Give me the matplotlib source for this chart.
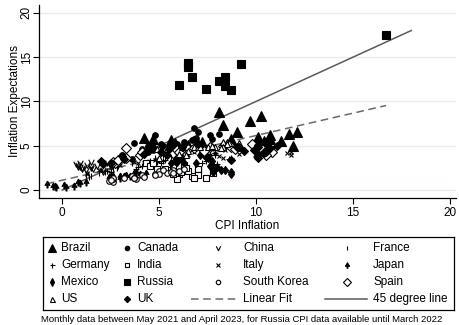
import numpy as np
import matplotlib
matplotlib.use("Agg")
import matplotlib.pyplot as plt
from matplotlib.path import Path

plt.rcParams["font.family"] = ["Liberation Sans", "DejaVu Sans"]

# monthly CPI inflation (x) and inflation expectations (y), May 2021 - April 2023
brazil_cpi = [8.1, 8.3, 9.0, 9.7, 10.25, 10.7, 10.7, 10.1, 10.4, 10.5, 11.3, 12.1,
              11.7, 11.9, 10.1, 8.7, 7.2, 6.5, 5.9, 5.8, 5.8, 5.6, 4.7, 4.2]
brazil_exp = [8.8, 7.3, 6.6, 7.8, 8.3, 6.2, 5.7, 6.0, 5.5, 5.1, 5.5, 6.5,
              6.3, 5.0, 5.3, 5.8, 5.4, 5.1, 4.9, 5.0, 5.3, 5.6, 5.8, 5.9]
canada_cpi = [3.6, 3.1, 3.7, 4.1, 4.4, 4.7, 4.7, 4.8, 5.1, 5.7, 6.7, 6.8,
              7.7, 8.1, 7.6, 7.0, 6.9, 6.9, 6.8, 6.3, 5.9, 5.2, 4.3, 4.4]
canada_exp = [3.5, 4.0, 5.3, 4.6, 5.0, 4.5, 4.8, 6.2, 5.2, 5.4, 5.6, 7.0,
              5.8, 6.3, 6.2, 6.6, 5.9, 5.5, 5.7, 5.4, 5.2, 5.0, 4.5, 4.3]
china_cpi = [1.3, 1.1, 1.0, 0.8, 0.7, 1.5, 2.3, 1.5, 0.9, 0.9, 1.5, 2.1,
             2.1, 2.5, 2.7, 2.5, 2.8, 2.1, 1.6, 1.8, 2.1, 1.0, 0.8, 1.2]
china_exp = [2.8, 2.6, 2.5, 2.8, 2.9, 3.2, 3.0, 2.7, 3.0, 2.6, 2.5, 2.3,
             2.0, 1.9, 2.8, 2.6, 3.0, 3.0, 2.4, 2.7, 2.9, 2.4, 2.6, 2.3]
france_cpi = [1.4, 1.5, 1.2, 1.9, 2.2, 2.6, 2.8, 2.8, 2.9, 3.6, 4.5, 4.8,
              5.2, 5.8, 6.1, 5.9, 5.6, 6.2, 6.2, 5.9, 6.0, 6.3, 5.7, 5.9]
france_exp = [1.5, 1.6, 1.7, 1.9, 2.0, 2.2, 2.5, 2.6, 2.7, 3.0, 3.3, 3.6,
              3.9, 4.0, 4.2, 4.0, 3.8, 3.7, 3.9, 3.6, 3.5, 3.5, 3.3, 3.2]
germany_cpi = [2.5, 2.3, 3.8, 3.9, 4.1, 4.5, 5.2, 5.3, 4.9, 5.1, 7.3, 7.4,
               7.9, 7.6, 7.9, 10.0, 10.4, 10.0, 8.6, 8.7, 8.7, 7.4, 7.2, 8.0]
germany_exp = [2.0, 2.1, 2.4, 2.6, 2.7, 3.0, 3.3, 3.4, 3.2, 3.1, 4.0, 4.1,
               4.0, 3.9, 4.2, 3.7, 4.0, 3.8, 3.5, 2.0, 3.6, 3.3, 3.0, 2.9]
india_cpi = [6.3, 6.3, 5.6, 5.3, 4.3, 4.5, 4.9, 5.7, 6.0, 6.1, 7.0, 7.8,
             7.0, 7.0, 6.7, 7.0, 7.4, 6.8, 5.9, 5.7, 6.5, 6.4, 5.7, 4.7]
india_exp = [2.8, 2.6, 2.3, 2.4, 3.0, 2.7, 2.4, 2.1, 1.8, 2.0, 2.3, 1.9,
             2.1, 2.4, 1.6, 1.7, 1.4, 1.3, 1.2, 1.8, 2.1, 2.5, 2.7, 3.0]
italy_cpi = [1.3, 1.3, 1.9, 2.0, 2.5, 3.0, 3.7, 3.9, 4.8, 5.7, 6.5, 6.0,
             6.8, 7.9, 8.4, 8.9, 11.8, 11.8, 11.6, 10.0, 9.1, 7.6, 8.1, 8.3]
italy_exp = [1.8, 1.9, 2.2, 2.3, 2.6, 2.8, 3.2, 3.0, 3.4, 3.8, 3.9, 4.1,
             4.3, 4.2, 4.5, 4.7, 3.9, 4.3, 4.2, 4.4, 4.1, 4.0, 3.8, 3.6]
japan_cpi = [-0.8, -0.5, -0.3, -0.4, 0.2, 0.1, 0.6, 0.8, 0.9, 1.2, 2.5, 2.5,
             2.4, 2.6, 3.0, 3.0, 3.7, 3.8, 4.0, 4.3, 3.3, 3.2, 3.2, 3.5]
japan_exp = [0.7, 0.4, 0.3, 0.5, 0.3, 0.6, 0.5, 0.9, 0.8, 0.9, 1.3, 1.2,
             1.5, 1.6, 1.3, 1.6, 1.9, 2.0, 1.8, 1.9, 1.7, 1.5, 1.6, 1.6]
mexico_cpi = [5.9, 5.9, 5.8, 5.6, 6.0, 6.2, 7.4, 7.4, 7.1, 7.3, 7.5, 7.7,
              7.7, 8.0, 8.2, 8.7, 8.7, 8.4, 7.8, 7.8, 7.9, 7.6, 6.9, 6.3]
mexico_exp = [3.4, 3.2, 3.3, 3.1, 3.5, 3.6, 3.8, 3.7, 3.9, 4.0, 3.6, 3.3,
              2.8, 2.6, 2.3, 2.0, 1.8, 2.2, 2.5, 2.0, 2.4, 2.7, 3.0, 3.1]
russia_cpi = [6.0, 6.5, 6.5, 6.7, 7.4, 8.1, 8.4, 8.4, 8.7, 9.2, 16.7]
russia_exp = [11.9, 14.3, 13.9, 12.8, 11.4, 12.3, 12.8, 11.7, 11.3, 14.2, 17.5]
korea_cpi = [2.6, 2.4, 2.6, 2.6, 2.5, 3.2, 3.8, 3.7, 3.6, 3.7, 4.1, 4.8,
             5.4, 6.0, 6.3, 5.7, 5.6, 5.7, 5.0, 5.0, 5.2, 4.8, 4.2, 3.7]
korea_exp = [0.9, 1.0, 1.2, 1.3, 1.1, 1.4, 1.2, 1.5, 1.6, 1.4, 1.7, 1.8,
             1.9, 2.1, 2.4, 2.2, 2.0, 1.9, 2.1, 1.8, 2.2, 1.7, 1.5, 1.3]
spain_cpi = [2.7, 2.6, 2.9, 3.3, 4.0, 5.4, 5.5, 6.5, 6.1, 7.6, 9.8, 8.3,
             8.7, 10.2, 10.8, 10.5, 8.9, 7.3, 6.8, 5.7, 5.9, 6.0, 3.3, 4.1]
spain_exp = [3.0, 3.2, 3.4, 3.6, 4.0, 4.3, 4.4, 4.6, 4.5, 4.8, 5.2, 5.0,
             4.8, 4.9, 4.3, 4.0, 4.6, 4.4, 4.7, 4.2, 4.5, 4.3, 4.7, 4.3]
us_cpi = [5.0, 5.4, 5.4, 5.3, 5.4, 6.2, 6.8, 7.0, 7.5, 7.9, 8.5, 8.3,
          8.6, 9.1, 8.5, 8.3, 8.2, 7.7, 7.1, 6.5, 6.4, 6.0, 5.0, 4.9]
us_exp = [4.6, 4.2, 4.7, 4.6, 4.6, 4.8, 4.9, 4.8, 4.9, 4.9, 5.4, 5.4,
          5.3, 5.3, 5.2, 4.8, 4.7, 5.0, 4.9, 4.4, 3.9, 4.1, 3.6, 4.6]
uk_cpi = [2.1, 2.5, 2.0, 3.2, 3.1, 4.2, 5.1, 5.4, 5.5, 6.2, 7.0, 9.0,
          9.1, 9.4, 10.1, 9.9, 10.1, 11.1, 10.7, 10.5, 10.1, 10.4, 10.1, 8.7]
uk_exp = [2.9, 3.1, 3.3, 3.5, 3.8, 4.1, 4.3, 4.0, 4.6, 4.9, 5.2, 4.9,
          4.8, 4.4, 5.1, 4.5, 4.8, 5.0, 4.7, 4.3, 3.9, 4.2, 3.6, 3.4]

# pooled linear fit: intercept and slope
fit_coef = [1.10, 0.505]
# 45 degree reference line range
diag_range = [0, 18]

caption = ("Monthly data between May 2021 and April 2023, "
           "for Russia CPI data available until March 2022")

# custom marker shapes
vee = Path([(-1, 1), (0, -1), (1, 1)], [Path.MOVETO, Path.LINETO, Path.LINETO])
arrowhead = Path([(0, 1), (0.7, -0.3), (0.15, -0.05), (0.15, -1), (-0.15, -1),
                  (-0.15, -0.05), (-0.7, -0.3), (0, 1)])

# name, x, y, marker, size, filled
series = [
    ("Brazil", brazil_cpi, brazil_exp, "^", 6.5, True),
    ("Canada", canada_cpi, canada_exp, "o", 4.0, True),
    ("China", china_cpi, china_exp, vee, 4.0, None),
    ("France", france_cpi, france_exp, "|", 4.0, True),
    ("Germany", germany_cpi, germany_exp, "+", 4.5, True),
    ("India", india_cpi, india_exp, "s", 4.0, False),
    ("Italy", italy_cpi, italy_exp, "x", 2.8, True),
    ("Japan", japan_cpi, japan_exp, arrowhead, 5.0, True),
    ("Mexico", mexico_cpi, mexico_exp, "d", 4.5, True),
    ("Russia", russia_cpi, russia_exp, "s", 5.8, True),
    ("South Korea", korea_cpi, korea_exp, "o", 4.0, False),
    ("Spain", spain_cpi, spain_exp, "D", 5.0, False),
    ("US", us_cpi, us_exp, "^", 4.5, False),
    ("UK", uk_cpi, uk_exp, "D", 4.0, True),
]


def marker_kw(marker, size, filled):
    kw = dict(marker=marker, markersize=size, color="black", linestyle="none",
              markeredgewidth=0.8)
    if filled is None:
        kw["markerfacecolor"] = "none"
    elif filled:
        kw["markerfacecolor"] = "black"
    else:
        kw["markerfacecolor"] = "white"
    return kw


fig = plt.figure(figsize=(4.59, 3.25), dpi=100)
ax = fig.add_axes([0.085, 0.391, 0.908, 0.594])

for gy in [0, 5, 10, 15, 20]:
    ax.axhline(gy, color="#e6eeef", lw=1.0, zorder=0)

for name, x, y, m, s, f in series:
    ax.plot(x, y, zorder=3, **marker_kw(m, s, f))

# linear fit drawn across the range of the pooled sample
all_x = np.concatenate([np.asarray(s[1], float) for s in series])
fx = np.array([all_x.min(), all_x.max()])
ax.plot(fx, fit_coef[0] + fit_coef[1] * fx, color="#6a6a6a", lw=1.1,
        ls=(0, (5, 3)), zorder=2)

dx = np.array(diag_range)
ax.plot(dx, dx, color="#5a5a5a", lw=1.1, zorder=2)

ax.set_xlim(-1.2, 20.3)
ax.set_ylim(-0.9, 20.9)
ax.set_xticks([0, 5, 10, 15, 20])
ax.set_yticks([0, 5, 10, 15, 20])
ax.set_yticklabels(["0", "5", "10", "15", "20"], rotation=90, va="center")
ax.tick_params(direction="out", length=4, width=0.8, labelsize=8.5, pad=2.5)
ax.tick_params(axis="y", pad=0.5)
for side in ["top", "right"]:
    ax.spines[side].set_visible(False)
for side in ["left", "bottom"]:
    ax.spines[side].set_linewidth(0.9)
ax.set_xlabel("CPI Inflation", fontsize=8.5, labelpad=1)
ax.set_ylabel("Inflation Expectations", fontsize=8.5)
ax.yaxis.set_label_coords(-18 / 417, 0.5)

# legend drawn in its own framed box, four columns
box_l, box_r, box_t, box_b = 43, 454, 237, 310
lg = fig.add_axes([box_l / 459, 1 - box_b / 325,
                   (box_r - box_l) / 459, (box_b - box_t) / 325])
lg.set_xlim(box_l, box_r)
lg.set_ylim(box_b, box_t)
lg.set_xticks([])
lg.set_yticks([])
for sp in lg.spines.values():
    sp.set_linewidth(0.9)

rows = [248, 265, 282, 299]
sym_x = [52, 127, 218, 347]
txt_x = [61, 137, 243, 373]
for i, (name, x, y, m, s, f) in enumerate(series):
    r, c = divmod(i, 4)
    lg.plot([sym_x[c]], [rows[r]], **marker_kw(m, s * 0.8, f))
    lg.text(txt_x[c], rows[r], name, fontsize=8.5, va="center", ha="left")

lg.plot([191, 236], [rows[3], rows[3]], color="#6a6a6a", lw=1.1, ls=(0, (5, 3)))
lg.text(txt_x[2], rows[3], "Linear Fit", fontsize=8.5, va="center", ha="left")
lg.plot([325, 367], [rows[3], rows[3]], color="#5a5a5a", lw=1.1)
lg.text(txt_x[3], rows[3], "45 degree line", fontsize=8.5, va="center", ha="left")

fig.text(242 / 459, 1 - 320 / 325, caption, fontsize=6.8, ha="center", va="center")

fig.savefig("out.png", dpi=100)
